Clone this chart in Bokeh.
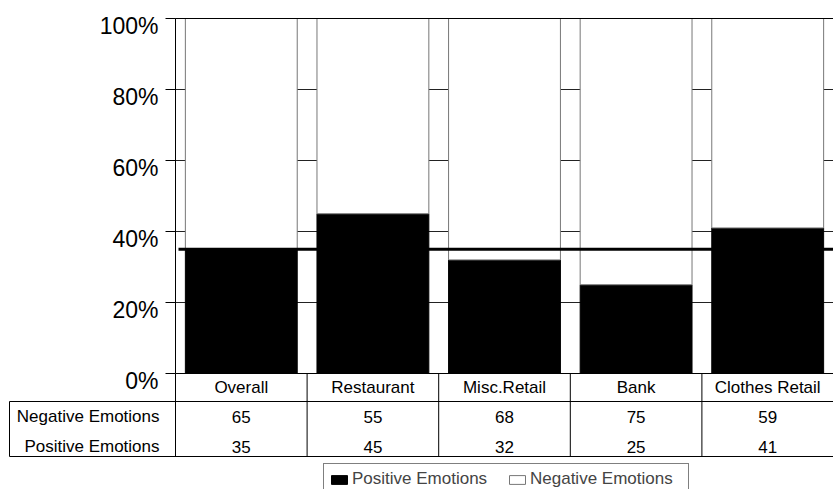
from bokeh.plotting import figure
from bokeh.models import (Range1d, LinearAxis, FixedTicker, PrintfTickFormatter,
                          Legend, LegendItem, ColumnDataSource)
from bokeh.core.properties import value
from bokeh.embed import file_html
from bokeh.resources import INLINE

# ---- data ----
categories = ["Overall", "Restaurant", "Misc.Retail", "Bank", "Clothes Retail"]
positive = [35, 45, 32, 25, 41]
negative = [65, 55, 68, 75, 59]
row_names = ["Negative Emotions", "Positive Emotions"]
y_ticks = [0, 20, 40, 60, 80, 100]
benchmark = positive[0]  # overall level carried across all categories

FONT = value("Liberation Sans")
W, H = 833, 489

# ---- layout constants (pixels -> data units) ----
PX_X = 131.6            # pixels per category
PX_Y = 3.55             # pixels per percent
X0 = -175 / PX_X        # left edge of canvas in data units
Y_TOP = 100 + 18 / PX_Y
Y_BOT = -(H - 373) / PX_Y
LABEL_DROP = 7 / PX_Y   # tick labels sit a little below their tick marks

def ypx(py):
    """canvas y pixel below the zero line -> data y"""
    return -(py - 373) / PX_Y

def xpx(px):
    return X0 + px / PX_X

n = len(categories)
centers = [i + 0.5 for i in range(n)]

p = figure(width=W, height=H, output_backend="svg", toolbar_location=None,
           x_axis_type=None, y_axis_type=None,
           x_range=Range1d(X0, n), y_range=Range1d(Y_BOT, Y_TOP),
           min_border=0, min_border_left=0, min_border_right=0,
           min_border_top=0, min_border_bottom=0)
p.extra_y_ranges = {"labels": Range1d(Y_BOT + LABEL_DROP, Y_TOP + LABEL_DROP)}
p.outline_line_color = None
p.background_fill_color = "white"
p.border_fill_color = "white"

# horizontal grid lines in the plotting area
grid_y = [t for t in y_ticks if t > 0]
p.segment(x0=[0] * len(grid_y), x1=[n] * len(grid_y), y0=grid_y, y1=grid_y,
          line_color="#222222", line_width=1)

# stacked 100% bars
src = ColumnDataSource(dict(x=centers, pos=positive,
                            top=[p_ + n_ for p_, n_ in zip(positive, negative)]))
r_pos = p.vbar(x="x", width=0.85, bottom=0, top="pos", source=src,
               fill_color="black", line_color="black", line_width=1)
r_neg = p.vbar(x="x", width=0.85, bottom="pos", top="top", source=src,
               fill_color="white", line_color="#777777", line_width=1)

# top line at 100%
p.segment(x0=[0], x1=[n], y0=[100], y1=[100], line_color="black", line_width=1)

# overall benchmark line
p.segment(x0=[xpx(178)], x1=[n], y0=[benchmark], y1=[benchmark],
          line_color="black", line_width=3)

# ---- data table under the chart ----
row_top = ypx(401)
row_bot = ypx(456)
left_edge = xpx(9)
p.segment(x0=[0, left_edge, left_edge], x1=[n, n, n],
          y0=[0, row_top, row_bot], y1=[0, row_top, row_bot],
          line_color="black", line_width=1)
p.segment(x0=list(range(n + 1)) + [left_edge],
          x1=list(range(n + 1)) + [left_edge],
          y0=[0] * (n + 1) + [row_top], y1=[row_bot] * (n + 2),
          line_color="black", line_width=1)

p.text(x=centers, y=[ypx(387)] * n, text=categories, text_font=FONT,
       text_font_size="17px", text_align="center", text_baseline="middle",
       text_color="black")
p.text(x=centers, y=[ypx(416)] * n, text=[str(v) for v in negative],
       text_font=FONT, text_font_size="17px", text_align="center",
       text_baseline="middle", text_color="black")
p.text(x=centers, y=[ypx(446)] * n, text=[str(v) for v in positive],
       text_font=FONT, text_font_size="17px", text_align="center",
       text_baseline="middle", text_color="black")
p.text(x=[xpx(159)] * 2, y=[ypx(416), ypx(446)], text=row_names,
       text_font=FONT, text_font_size="17px", text_align="right",
       text_baseline="middle", text_color="black")

# ---- y axis pinned at the left edge of the bars ----
# axis line and tick marks
yaxis = LinearAxis(ticker=FixedTicker(ticks=y_ticks),
                   bounds=(0, 100), fixed_location=0,
                   major_label_overrides={t: "" for t in y_ticks})
yaxis.major_tick_out = 10
yaxis.major_tick_in = 0
yaxis.minor_tick_out = 0
yaxis.minor_tick_in = 0
yaxis.axis_line_color = "black"
yaxis.major_tick_line_color = "black"
p.add_layout(yaxis, "left")

# percentage labels, set slightly below their ticks
ylabels = LinearAxis(ticker=FixedTicker(ticks=y_ticks), y_range_name="labels",
                     formatter=PrintfTickFormatter(format="%d%%"),
                     fixed_location=0)
ylabels.major_label_text_font = "Liberation Sans"
ylabels.major_label_text_font_size = "23px"
ylabels.major_label_text_color = "black"
ylabels.major_tick_out = 0
ylabels.major_tick_in = 0
ylabels.minor_tick_out = 0
ylabels.minor_tick_in = 0
ylabels.major_tick_line_color = None
ylabels.minor_tick_line_color = None
ylabels.axis_line_color = None
ylabels.major_label_standoff = 17
p.add_layout(ylabels, "left")

# ---- legend ----
legend = Legend(items=[LegendItem(label="Positive Emotions", renderers=[r_pos]),
                       LegendItem(label="Negative Emotions", renderers=[r_neg])],
                orientation="horizontal", location=(323, -6))
legend.label_text_font = "Liberation Sans"
legend.label_text_font_size = "17px"
legend.glyph_width = 20
legend.glyph_height = 11
legend.label_standoff = 3
legend.label_width = 153
legend.spacing = 2
legend.padding = 5
legend.margin = 0
legend.border_line_color = "black"
legend.border_line_width = 1
legend.background_fill_color = "white"
legend.background_fill_alpha = 1
p.add_layout(legend)

open("out.html", "w").write(file_html(p, INLINE))
